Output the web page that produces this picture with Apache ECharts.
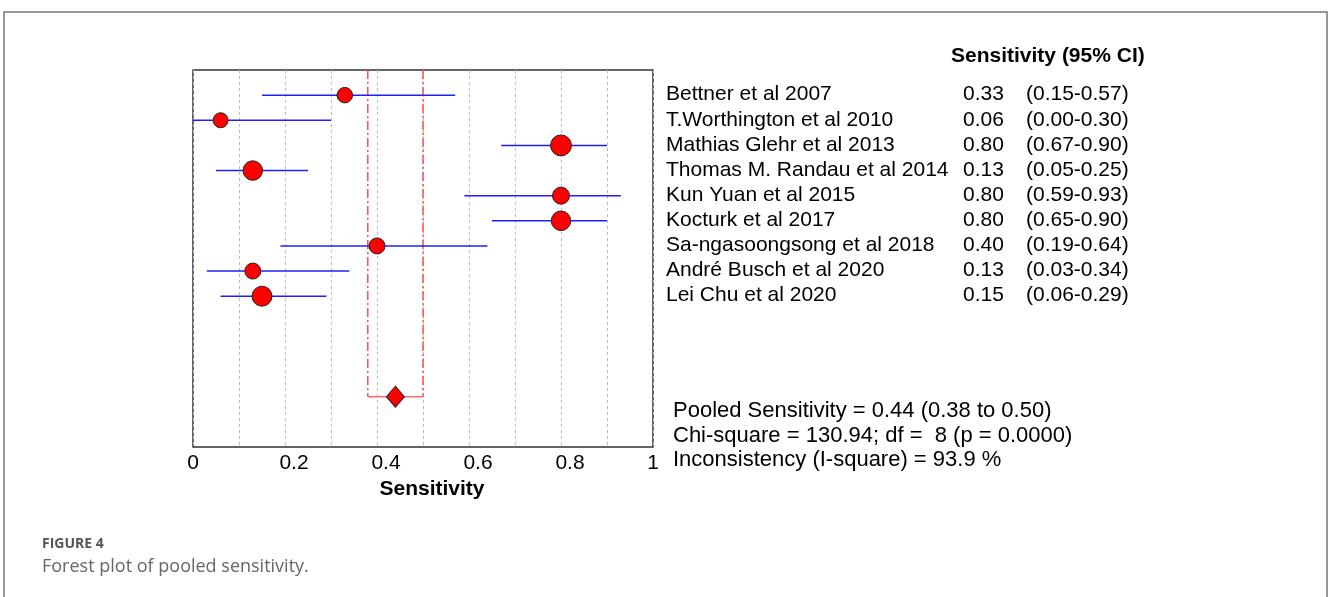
<!DOCTYPE html>
<html>
<head>
<meta charset="utf-8">
<title>Forest plot of pooled sensitivity</title>
<script src="https://cdn.jsdelivr.net/npm/echarts@6/dist/echarts.min.js"></script>
<style>
    html, body {margin: 0; padding: 0; background: #fff;}
    #main {width: 1328px; height: 597px;}
</style>
</head>
<body>
<div id="main"></div>
<script>
// 研究名称 / 灵敏度 / 95% 置信区间
var studies = [
    'Bettner et al 2007',
    'T.Worthington et al 2010',
    'Mathias Glehr et al 2013',
    'Thomas M. Randau et al 2014',
    'Kun Yuan et al 2015',
    'Kocturk et al 2017',
    'Sa-ngasoongsong et al 2018',
    'André Busch et al 2020',
    'Lei Chu et al 2020'
];
var sens = [0.33, 0.06, 0.80, 0.13, 0.80, 0.80, 0.40, 0.13, 0.15];
var ciLow = [0.15, 0.00, 0.67, 0.05, 0.59, 0.65, 0.19, 0.03, 0.06];
var ciHigh = [0.57, 0.30, 0.90, 0.25, 0.93, 0.90, 0.64, 0.34, 0.29];

// 合并灵敏度 [估计值, 下限, 上限]
var pooled = [0.44, 0.38, 0.50];
var pooledRow = 12;

var xTickLabels = ['0', '0.2', '0.4', '0.6', '0.8', '1'];
var statsLines = [
    'Pooled Sensitivity = 0.44 (0.38 to 0.50)',
    'Chi-square = 130.94; df =  8 (p = 0.0000)',
    'Inconsistency (I-square) = 93.9 %'
];

// 点的大小（按权重）
var dotSize = [15.5, 15, 21, 19.5, 17, 19.5, 16, 16, 20];

var FONT = '"Liberation Sans", Arial, sans-serif';

var chart = echarts.init(document.getElementById('main'));

var option = {
    animation: false,
    grid: {
        left: 193, top: 70, width: 460, height: 377,
        show: true,
        borderColor: '#333',
        borderWidth: 1.5,
        backgroundColor: 'transparent'
    },
    xAxis: {
        type: 'value',
        min: 0, max: 1, interval: 0.1,
        axisLine: {show: false},
        axisTick: {show: false},
        splitLine: {
            show: true,
            lineStyle: {color: '#bdbdbd', type: [3, 3], width: 1}
        },
        axisLabel: {
            margin: 6,
            fontFamily: FONT, fontSize: 21, color: '#000',
            formatter: function (v) {
                var k = Math.round(v * 10);
                if (k % 2) return '';
                var s = xTickLabels[k / 2];
                if (k === 0 || k === 10) return s;
                return '{s|' + s + '}';
            },
            rich: {
                s: {fontFamily: FONT, fontSize: 21, color: '#000', padding: [0, 0, 0, 18]}
            }
        },
        name: 'Sensitivity',
        nameLocation: 'middle',
        nameGap: 30,
        nameTextStyle: {
            fontFamily: FONT, fontSize: 21, fontWeight: 'bold', color: '#000',
            padding: [0, 0, 0, 18]
        }
    },
    yAxis: [
        {
            type: 'value', inverse: true,
            min: -1, max: 14, interval: 1,
            show: false
        },
        {
            // 右侧：研究名称与数值
            type: 'value', inverse: true,
            position: 'right',
            min: -1, max: 14, interval: 1,
            axisLine: {show: false},
            axisTick: {show: false},
            splitLine: {show: false},
            axisLabel: {
                margin: 13,
                formatter: function (v) {
                    if (v < 0 || v >= studies.length) return '';
                    return '{n|' + studies[v] + '}{v|' + sens[v].toFixed(2) + '}{c|(' +
                        ciLow[v].toFixed(2) + '-' + ciHigh[v].toFixed(2) + ')}';
                },
                rich: {
                    n: {fontFamily: FONT, fontSize: 21, color: '#000', width: 297, padding: [0, 0, 1, 0]},
                    v: {fontFamily: FONT, fontSize: 21, color: '#000', width: 63, padding: [0, 0, 1, 0]},
                    c: {fontFamily: FONT, fontSize: 21, color: '#000', padding: [0, 0, 1, 0]}
                }
            }
        }
    ],
    graphic: [
        {
            type: 'rect', silent: true,
            shape: {x: 4, y: 12, width: 1323, height: 700},
            style: {fill: 'none', stroke: '#777', lineWidth: 1.5}
        },
        {
            type: 'text', left: 951, top: 46,
            style: {text: 'Sensitivity (95% CI)', font: 'bold 21px ' + FONT, fill: '#000'}
        },
        {
            type: 'text', left: 673, top: 399,
            style: {text: statsLines.join('\n'), font: '22px ' + FONT, fill: '#000', lineHeight: 24.5}
        },
        {
            type: 'text', left: 42, top: 537,
            style: {text: 'FIGURE 4', font: 'bold 14px "Open Sans", sans-serif', fill: '#555'}
        },
        {
            type: 'text', left: 42, top: 558,
            style: {text: 'Forest plot of pooled sensitivity.', font: '18px "Open Sans", sans-serif', fill: '#666'}
        }
    ],
    series: [
        {
            // 合并置信区间（红色虚线）
            type: 'custom',
            z: 2,
            data: [[pooled[1], pooled[2], pooledRow]],
            renderItem: function (params, api) {
                var lo = api.value(0), hi = api.value(1), row = api.value(2);
                var a = api.coord([lo, -1]), b = api.coord([lo, row]);
                var c = api.coord([hi, -1]), d = api.coord([hi, row]);
                var dash = {stroke: '#ff4d4d', lineWidth: 1.5, lineDash: [9, 3, 2, 3]};
                return {
                    type: 'group',
                    children: [
                        {type: 'line', shape: {x1: a[0], y1: a[1], x2: b[0], y2: b[1]}, style: dash},
                        {type: 'line', shape: {x1: c[0], y1: c[1], x2: d[0], y2: d[1]}, style: dash},
                        {type: 'line', shape: {x1: b[0], y1: b[1], x2: d[0], y2: d[1]},
                            style: {stroke: '#ff6b6b', lineWidth: 1.5}}
                    ]
                };
            }
        },
        {
            // 各研究置信区间（蓝线）
            type: 'custom',
            z: 3,
            data: ciLow.map(function (lo, i) { return [lo, ciHigh[i], i]; }),
            renderItem: function (params, api) {
                var p1 = api.coord([api.value(0), api.value(2)]);
                var p2 = api.coord([api.value(1), api.value(2)]);
                return {
                    type: 'line',
                    shape: {x1: p1[0], y1: p1[1], x2: p2[0], y2: p2[1]},
                    style: {stroke: '#1f1ff5', lineWidth: 1.5}
                };
            }
        },
        {
            type: 'scatter',
            z: 4,
            data: sens.map(function (s, i) { return [s, i]; }),
            symbol: 'circle',
            symbolSize: function (val, params) { return dotSize[params.dataIndex]; },
            itemStyle: {color: '#ff0000', borderColor: '#222', borderWidth: 1, opacity: 1}
        },
        {
            type: 'scatter',
            z: 4,
            data: [[pooled[0], pooledRow]],
            symbol: 'diamond',
            symbolSize: [18, 21],
            itemStyle: {color: '#ff0000', borderColor: '#222', borderWidth: 1, opacity: 1}
        }
    ]
};

chart.setOption(option);
</script>
</body>
</html>
